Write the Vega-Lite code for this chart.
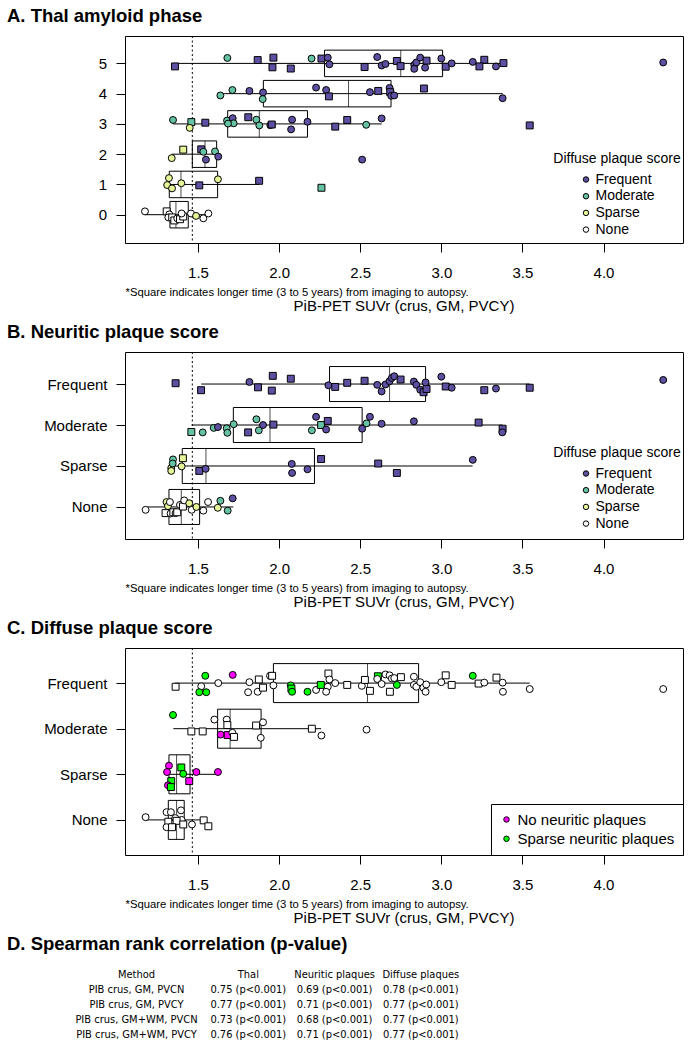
{
"$schema": "https://vega.github.io/schema/vega-lite/v6.json",
"padding": {"left": 7, "top": 6, "right": 5, "bottom": 5},
"config": {
 "font": "Liberation Sans",
 "view": {"stroke": "black", "strokeWidth": 1},
 "axis": {"domain": false, "grid": false, "tickColor": "black", "tickSize": 9, "tickWidth": 1, "labelFontSize": 15, "labelColor": "black", "labelPadding": 13, "titleColor": "black", "titleFontWeight": "normal", "labelFont": "Liberation Sans", "titleFont": "Liberation Sans"},
 "title": {"color": "black", "fontSize": 18.5, "fontWeight": "bold", "anchor": "start", "font": "Liberation Sans"},
 "legend": {"titleColor": "black", "labelColor": "black", "labelFont": "Liberation Sans", "titleFont": "Liberation Sans"}
},
"resolve": {"scale": {"color": "independent"}, "legend": {"color": "independent"}},
"datasets": {
 "boxA": [
  {"level": 5, "wlo": 1.358, "q1": 2.28, "med": 2.75, "q3": 3.008, "whi": 3.383},
  {"level": 4, "wlo": 1.638, "q1": 1.903, "med": 2.428, "q3": 2.69, "whi": 3.378},
  {"level": 3, "wlo": 1.346, "q1": 1.683, "med": 1.878, "q3": 2.175, "whi": 2.632},
  {"level": 2, "wlo": 1.338, "q1": 1.465, "med": 1.543, "q3": 1.615, "whi": 1.625},
  {"level": 1, "wlo": 1.31, "q1": 1.323, "med": 1.395, "q3": 1.621, "whi": 1.877},
  {"level": 0, "wlo": 1.173, "q1": 1.327, "med": 1.364, "q3": 1.44, "whi": 1.564}
 ],
 "boxB": [
  {"level": 4, "wlo": 1.52, "q1": 2.311, "med": 2.681, "q3": 2.903, "whi": 3.545},
  {"level": 3, "wlo": 1.461, "q1": 1.718, "med": 1.944, "q3": 2.512, "whi": 3.378},
  {"level": 2, "wlo": 1.335, "q1": 1.403, "med": 1.549, "q3": 2.218, "whi": 3.193},
  {"level": 1, "wlo": 1.177, "q1": 1.321, "med": 1.397, "q3": 1.51, "whi": 1.718}
 ],
 "boxC": [
  {"level": 4, "wlo": 1.358, "q1": 1.965, "med": 2.545, "q3": 2.86, "whi": 3.545},
  {"level": 3, "wlo": 1.348, "q1": 1.621, "med": 1.698, "q3": 1.889, "whi": 2.259},
  {"level": 2, "wlo": 1.309, "q1": 1.321, "med": 1.368, "q3": 1.451, "whi": 1.625},
  {"level": 1, "wlo": 1.177, "q1": 1.317, "med": 1.368, "q3": 1.415, "whi": 1.533}
 ],
 "ptsA": [
  {"suvr": 1.358, "jit": 4.90, "dps": "Frequent", "gap": "long"},
  {"suvr": 1.681, "jit": 5.18, "dps": "Moderate", "gap": "short"},
  {"suvr": 1.868, "jit": 5.11, "dps": "Frequent", "gap": "long"},
  {"suvr": 1.965, "jit": 5.19, "dps": "Frequent", "gap": "long"},
  {"suvr": 1.959, "jit": 4.87, "dps": "Frequent", "gap": "long"},
  {"suvr": 2.072, "jit": 4.83, "dps": "Frequent", "gap": "long"},
  {"suvr": 2.20, "jit": 5.16, "dps": "Moderate", "gap": "short"},
  {"suvr": 2.261, "jit": 5.16, "dps": "Frequent", "gap": "long"},
  {"suvr": 2.30, "jit": 5.19, "dps": "Frequent", "gap": "short"},
  {"suvr": 2.31, "jit": 4.97, "dps": "Frequent", "gap": "short"},
  {"suvr": 2.527, "jit": 4.88, "dps": "Frequent", "gap": "long"},
  {"suvr": 2.605, "jit": 5.21, "dps": "Frequent", "gap": "short"},
  {"suvr": 2.632, "jit": 4.93, "dps": "Frequent", "gap": "short"},
  {"suvr": 2.656, "jit": 4.98, "dps": "Frequent", "gap": "short"},
  {"suvr": 2.726, "jit": 5.08, "dps": "Frequent", "gap": "long"},
  {"suvr": 2.749, "jit": 4.91, "dps": "Frequent", "gap": "long"},
  {"suvr": 2.833, "jit": 4.95, "dps": "Frequent", "gap": "short"},
  {"suvr": 2.846, "jit": 5.03, "dps": "Frequent", "gap": "short"},
  {"suvr": 2.870, "jit": 5.19, "dps": "Frequent", "gap": "short"},
  {"suvr": 2.909, "jit": 5.09, "dps": "Frequent", "gap": "long"},
  {"suvr": 2.833, "jit": 4.82, "dps": "Frequent", "gap": "short"},
  {"suvr": 2.90, "jit": 4.86, "dps": "Frequent", "gap": "short"},
  {"suvr": 3.0, "jit": 5.16, "dps": "Frequent", "gap": "short"},
  {"suvr": 3.027, "jit": 4.89, "dps": "Frequent", "gap": "long"},
  {"suvr": 3.064, "jit": 5.0, "dps": "Frequent", "gap": "short"},
  {"suvr": 3.194, "jit": 5.05, "dps": "Frequent", "gap": "short"},
  {"suvr": 3.265, "jit": 5.12, "dps": "Frequent", "gap": "long"},
  {"suvr": 3.235, "jit": 4.90, "dps": "Frequent", "gap": "long"},
  {"suvr": 3.337, "jit": 4.90, "dps": "Frequent", "gap": "short"},
  {"suvr": 3.383, "jit": 5.01, "dps": "Frequent", "gap": "long"},
  {"suvr": 4.368, "jit": 5.03, "dps": "Frequent", "gap": "short"},
  {"suvr": 1.638, "jit": 3.94, "dps": "Moderate", "gap": "short"},
  {"suvr": 1.712, "jit": 4.12, "dps": "Moderate", "gap": "short"},
  {"suvr": 1.817, "jit": 4.09, "dps": "Frequent", "gap": "short"},
  {"suvr": 1.901, "jit": 4.04, "dps": "Frequent", "gap": "short"},
  {"suvr": 1.899, "jit": 3.82, "dps": "Moderate", "gap": "short"},
  {"suvr": 2.228, "jit": 4.20, "dps": "Frequent", "gap": "short"},
  {"suvr": 2.29, "jit": 4.12, "dps": "Frequent", "gap": "short"},
  {"suvr": 2.307, "jit": 3.91, "dps": "Frequent", "gap": "long"},
  {"suvr": 2.56, "jit": 4.05, "dps": "Frequent", "gap": "short"},
  {"suvr": 2.611, "jit": 4.09, "dps": "Frequent", "gap": "long"},
  {"suvr": 2.681, "jit": 4.19, "dps": "Frequent", "gap": "short"},
  {"suvr": 2.685, "jit": 4.05, "dps": "Frequent", "gap": "long"},
  {"suvr": 2.691, "jit": 3.93, "dps": "Frequent", "gap": "short"},
  {"suvr": 2.71, "jit": 3.94, "dps": "Frequent", "gap": "short"},
  {"suvr": 2.893, "jit": 4.17, "dps": "Frequent", "gap": "long"},
  {"suvr": 3.378, "jit": 3.85, "dps": "Frequent", "gap": "short"},
  {"suvr": 1.346, "jit": 3.13, "dps": "Moderate", "gap": "short"},
  {"suvr": 1.459, "jit": 3.06, "dps": "Moderate", "gap": "long"},
  {"suvr": 1.449, "jit": 2.87, "dps": "Sparse", "gap": "short"},
  {"suvr": 1.545, "jit": 3.04, "dps": "Frequent", "gap": "long"},
  {"suvr": 1.679, "jit": 3.11, "dps": "Moderate", "gap": "short"},
  {"suvr": 1.714, "jit": 3.19, "dps": "Frequent", "gap": "short"},
  {"suvr": 1.72, "jit": 3.02, "dps": "Moderate", "gap": "short"},
  {"suvr": 1.685, "jit": 3.01, "dps": "Moderate", "gap": "short"},
  {"suvr": 1.81, "jit": 3.22, "dps": "Frequent", "gap": "long"},
  {"suvr": 1.86, "jit": 3.14, "dps": "Moderate", "gap": "short"},
  {"suvr": 1.878, "jit": 2.95, "dps": "Moderate", "gap": "short"},
  {"suvr": 1.946, "jit": 2.96, "dps": "Frequent", "gap": "short"},
  {"suvr": 1.955, "jit": 2.98, "dps": "Frequent", "gap": "long"},
  {"suvr": 2.08, "jit": 3.14, "dps": "Frequent", "gap": "short"},
  {"suvr": 2.074, "jit": 2.82, "dps": "Frequent", "gap": "short"},
  {"suvr": 2.175, "jit": 3.07, "dps": "Frequent", "gap": "short"},
  {"suvr": 2.346, "jit": 2.91, "dps": "Frequent", "gap": "long"},
  {"suvr": 2.42, "jit": 3.13, "dps": "Frequent", "gap": "long"},
  {"suvr": 2.537, "jit": 2.97, "dps": "Moderate", "gap": "short"},
  {"suvr": 2.632, "jit": 3.18, "dps": "Frequent", "gap": "short"},
  {"suvr": 3.545, "jit": 2.95, "dps": "Frequent", "gap": "long"},
  {"suvr": 1.338, "jit": 1.87, "dps": "Sparse", "gap": "short"},
  {"suvr": 1.409, "jit": 2.15, "dps": "Sparse", "gap": "long"},
  {"suvr": 1.52, "jit": 2.16, "dps": "Frequent", "gap": "long"},
  {"suvr": 1.533, "jit": 2.08, "dps": "Moderate", "gap": "short"},
  {"suvr": 1.549, "jit": 1.82, "dps": "Frequent", "gap": "short"},
  {"suvr": 1.605, "jit": 2.09, "dps": "Moderate", "gap": "short"},
  {"suvr": 1.625, "jit": 1.92, "dps": "Frequent", "gap": "short"},
  {"suvr": 2.512, "jit": 1.82, "dps": "Frequent", "gap": "short"},
  {"suvr": 1.321, "jit": 1.21, "dps": "Sparse", "gap": "short"},
  {"suvr": 1.31, "jit": 0.98, "dps": "Sparse", "gap": "short"},
  {"suvr": 1.34, "jit": 0.87, "dps": "Sparse", "gap": "short"},
  {"suvr": 1.397, "jit": 1.04, "dps": "Sparse", "gap": "short"},
  {"suvr": 1.508, "jit": 0.97, "dps": "Frequent", "gap": "long"},
  {"suvr": 1.623, "jit": 1.17, "dps": "Sparse", "gap": "short"},
  {"suvr": 1.877, "jit": 1.12, "dps": "Frequent", "gap": "long"},
  {"suvr": 2.261, "jit": 0.89, "dps": "Moderate", "gap": "long"},
  {"suvr": 1.173, "jit": 0.11, "dps": "None", "gap": "short"},
  {"suvr": 1.307, "jit": 0.11, "dps": "None", "gap": "long"},
  {"suvr": 1.323, "jit": 0.01, "dps": "None", "gap": "short"},
  {"suvr": 1.317, "jit": -0.09, "dps": "None", "gap": "short"},
  {"suvr": 1.341, "jit": -0.09, "dps": "None", "gap": "long"},
  {"suvr": 1.354, "jit": -0.19, "dps": "None", "gap": "long"},
  {"suvr": 1.372, "jit": -0.12, "dps": "None", "gap": "short"},
  {"suvr": 1.389, "jit": -0.15, "dps": "None", "gap": "long"},
  {"suvr": 1.409, "jit": -0.06, "dps": "None", "gap": "long"},
  {"suvr": 1.399, "jit": 0.04, "dps": "None", "gap": "short"},
  {"suvr": 1.457, "jit": 0.04, "dps": "None", "gap": "short"},
  {"suvr": 1.488, "jit": -0.04, "dps": "Sparse", "gap": "short"},
  {"suvr": 1.533, "jit": -0.12, "dps": "None", "gap": "short"},
  {"suvr": 1.564, "jit": 0.04, "dps": "None", "gap": "short"}
 ],
 "ptsB": [
  {"suvr": 1.362, "jit": 4.02, "dps": "Frequent", "gap": "long"},
  {"suvr": 1.519, "jit": 3.85, "dps": "Frequent", "gap": "long"},
  {"suvr": 1.817, "jit": 4.05, "dps": "Frequent", "gap": "short"},
  {"suvr": 1.870, "jit": 3.92, "dps": "Frequent", "gap": "long"},
  {"suvr": 1.961, "jit": 4.20, "dps": "Frequent", "gap": "long"},
  {"suvr": 1.955, "jit": 3.84, "dps": "Frequent", "gap": "long"},
  {"suvr": 2.072, "jit": 4.13, "dps": "Frequent", "gap": "long"},
  {"suvr": 2.304, "jit": 3.97, "dps": "Frequent", "gap": "short"},
  {"suvr": 2.346, "jit": 3.93, "dps": "Frequent", "gap": "long"},
  {"suvr": 2.42, "jit": 4.03, "dps": "Frequent", "gap": "long"},
  {"suvr": 2.527, "jit": 4.08, "dps": "Frequent", "gap": "long"},
  {"suvr": 2.605, "jit": 3.98, "dps": "Frequent", "gap": "short"},
  {"suvr": 2.632, "jit": 3.82, "dps": "Frequent", "gap": "short"},
  {"suvr": 2.656, "jit": 3.99, "dps": "Frequent", "gap": "short"},
  {"suvr": 2.681, "jit": 4.07, "dps": "Frequent", "gap": "short"},
  {"suvr": 2.695, "jit": 4.15, "dps": "Frequent", "gap": "short"},
  {"suvr": 2.71, "jit": 4.19, "dps": "Frequent", "gap": "short"},
  {"suvr": 2.749, "jit": 4.11, "dps": "Frequent", "gap": "long"},
  {"suvr": 2.831, "jit": 4.06, "dps": "Frequent", "gap": "short"},
  {"suvr": 2.846, "jit": 3.98, "dps": "Frequent", "gap": "short"},
  {"suvr": 2.870, "jit": 3.86, "dps": "Frequent", "gap": "short"},
  {"suvr": 2.891, "jit": 3.80, "dps": "Frequent", "gap": "long"},
  {"suvr": 2.909, "jit": 3.88, "dps": "Frequent", "gap": "long"},
  {"suvr": 2.903, "jit": 4.04, "dps": "Frequent", "gap": "short"},
  {"suvr": 3.0, "jit": 4.18, "dps": "Frequent", "gap": "short"},
  {"suvr": 3.027, "jit": 3.94, "dps": "Frequent", "gap": "long"},
  {"suvr": 3.064, "jit": 3.91, "dps": "Frequent", "gap": "short"},
  {"suvr": 3.265, "jit": 3.85, "dps": "Frequent", "gap": "long"},
  {"suvr": 3.337, "jit": 3.89, "dps": "Frequent", "gap": "short"},
  {"suvr": 3.545, "jit": 3.91, "dps": "Frequent", "gap": "long"},
  {"suvr": 4.368, "jit": 4.10, "dps": "Frequent", "gap": "short"},
  {"suvr": 1.459, "jit": 2.83, "dps": "Moderate", "gap": "long"},
  {"suvr": 1.529, "jit": 2.82, "dps": "Moderate", "gap": "short"},
  {"suvr": 1.597, "jit": 2.93, "dps": "Moderate", "gap": "short"},
  {"suvr": 1.623, "jit": 2.95, "dps": "Frequent", "gap": "short"},
  {"suvr": 1.677, "jit": 2.92, "dps": "Moderate", "gap": "short"},
  {"suvr": 1.681, "jit": 2.81, "dps": "Moderate", "gap": "short"},
  {"suvr": 1.72, "jit": 3.02, "dps": "Moderate", "gap": "short"},
  {"suvr": 1.809, "jit": 2.82, "dps": "Frequent", "gap": "long"},
  {"suvr": 1.86, "jit": 3.14, "dps": "Moderate", "gap": "short"},
  {"suvr": 1.875, "jit": 2.87, "dps": "Moderate", "gap": "short"},
  {"suvr": 1.901, "jit": 3.0, "dps": "Frequent", "gap": "short"},
  {"suvr": 1.965, "jit": 3.01, "dps": "Frequent", "gap": "long"},
  {"suvr": 2.228, "jit": 3.20, "dps": "Frequent", "gap": "short"},
  {"suvr": 2.202, "jit": 2.87, "dps": "Moderate", "gap": "short"},
  {"suvr": 2.259, "jit": 3.0, "dps": "Moderate", "gap": "long"},
  {"suvr": 2.30, "jit": 3.10, "dps": "Frequent", "gap": "long"},
  {"suvr": 2.29, "jit": 2.89, "dps": "Frequent", "gap": "short"},
  {"suvr": 2.512, "jit": 2.91, "dps": "Frequent", "gap": "short"},
  {"suvr": 2.539, "jit": 3.04, "dps": "Moderate", "gap": "short"},
  {"suvr": 2.56, "jit": 3.20, "dps": "Frequent", "gap": "short"},
  {"suvr": 2.632, "jit": 3.03, "dps": "Frequent", "gap": "short"},
  {"suvr": 2.831, "jit": 3.09, "dps": "Frequent", "gap": "short"},
  {"suvr": 3.23, "jit": 3.06, "dps": "Frequent", "gap": "long"},
  {"suvr": 3.378, "jit": 2.91, "dps": "Frequent", "gap": "long"},
  {"suvr": 3.376, "jit": 2.82, "dps": "Frequent", "gap": "short"},
  {"suvr": 1.346, "jit": 2.16, "dps": "Moderate", "gap": "short"},
  {"suvr": 1.407, "jit": 2.19, "dps": "Sparse", "gap": "long"},
  {"suvr": 1.399, "jit": 1.99, "dps": "Sparse", "gap": "short"},
  {"suvr": 1.335, "jit": 1.95, "dps": "Sparse", "gap": "short"},
  {"suvr": 1.335, "jit": 1.88, "dps": "Sparse", "gap": "short"},
  {"suvr": 1.344, "jit": 2.06, "dps": "Moderate", "gap": "short"},
  {"suvr": 1.508, "jit": 1.88, "dps": "Frequent", "gap": "long"},
  {"suvr": 1.547, "jit": 1.93, "dps": "Frequent", "gap": "short"},
  {"suvr": 2.078, "jit": 2.05, "dps": "Frequent", "gap": "short"},
  {"suvr": 2.08, "jit": 1.83, "dps": "Frequent", "gap": "short"},
  {"suvr": 2.175, "jit": 1.92, "dps": "Frequent", "gap": "short"},
  {"suvr": 2.259, "jit": 2.17, "dps": "Frequent", "gap": "long"},
  {"suvr": 2.611, "jit": 2.06, "dps": "Frequent", "gap": "long"},
  {"suvr": 2.726, "jit": 1.83, "dps": "Frequent", "gap": "long"},
  {"suvr": 3.194, "jit": 2.15, "dps": "Frequent", "gap": "short"},
  {"suvr": 1.177, "jit": 0.93, "dps": "None", "gap": "short"},
  {"suvr": 1.30, "jit": 0.85, "dps": "None", "gap": "long"},
  {"suvr": 1.306, "jit": 1.12, "dps": "Sparse", "gap": "short"},
  {"suvr": 1.315, "jit": 1.02, "dps": "Sparse", "gap": "short"},
  {"suvr": 1.327, "jit": 1.12, "dps": "None", "gap": "short"},
  {"suvr": 1.331, "jit": 0.84, "dps": "None", "gap": "short"},
  {"suvr": 1.348, "jit": 0.87, "dps": "None", "gap": "long"},
  {"suvr": 1.362, "jit": 0.85, "dps": "None", "gap": "short"},
  {"suvr": 1.372, "jit": 0.87, "dps": "None", "gap": "long"},
  {"suvr": 1.389, "jit": 1.05, "dps": "None", "gap": "short"},
  {"suvr": 1.407, "jit": 1.01, "dps": "None", "gap": "long"},
  {"suvr": 1.415, "jit": 1.16, "dps": "None", "gap": "short"},
  {"suvr": 1.446, "jit": 1.09, "dps": "Sparse", "gap": "short"},
  {"suvr": 1.461, "jit": 0.93, "dps": "None", "gap": "short"},
  {"suvr": 1.49, "jit": 1.0, "dps": "Sparse", "gap": "short"},
  {"suvr": 1.533, "jit": 0.91, "dps": "None", "gap": "short"},
  {"suvr": 1.562, "jit": 1.12, "dps": "None", "gap": "short"},
  {"suvr": 1.622, "jit": 0.98, "dps": "Sparse", "gap": "short"},
  {"suvr": 1.638, "jit": 1.15, "dps": "Moderate", "gap": "short"},
  {"suvr": 1.683, "jit": 0.91, "dps": "Moderate", "gap": "short"},
  {"suvr": 1.714, "jit": 1.21, "dps": "Frequent", "gap": "short"}
 ],
 "ptsC": [
  {"suvr": 1.362, "jit": 3.92, "np": "Moderate or frequent neuritic plaques", "gap": "long"},
  {"suvr": 1.545, "jit": 4.16, "np": "Sparse neuritic plaques", "gap": "short"},
  {"suvr": 1.52, "jit": 3.93, "np": "Moderate or frequent neuritic plaques", "gap": "short"},
  {"suvr": 1.508, "jit": 3.80, "np": "Sparse neuritic plaques", "gap": "short"},
  {"suvr": 1.551, "jit": 3.80, "np": "Sparse neuritic plaques", "gap": "short"},
  {"suvr": 1.625, "jit": 4.0, "np": "Moderate or frequent neuritic plaques", "gap": "short"},
  {"suvr": 1.714, "jit": 4.18, "np": "No neuritic plaques", "gap": "short"},
  {"suvr": 1.817, "jit": 4.02, "np": "Moderate or frequent neuritic plaques", "gap": "short"},
  {"suvr": 1.809, "jit": 3.80, "np": "Moderate or frequent neuritic plaques", "gap": "short"},
  {"suvr": 1.875, "jit": 4.08, "np": "Moderate or frequent neuritic plaques", "gap": "long"},
  {"suvr": 1.868, "jit": 3.81, "np": "Moderate or frequent neuritic plaques", "gap": "short"},
  {"suvr": 1.901, "jit": 3.90, "np": "Moderate or frequent neuritic plaques", "gap": "long"},
  {"suvr": 1.944, "jit": 4.16, "np": "Moderate or frequent neuritic plaques", "gap": "short"},
  {"suvr": 1.957, "jit": 4.16, "np": "Moderate or frequent neuritic plaques", "gap": "long"},
  {"suvr": 1.965, "jit": 3.95, "np": "Moderate or frequent neuritic plaques", "gap": "short"},
  {"suvr": 2.072, "jit": 3.95, "np": "Sparse neuritic plaques", "gap": "short"},
  {"suvr": 2.076, "jit": 3.88, "np": "Sparse neuritic plaques", "gap": "long"},
  {"suvr": 2.08, "jit": 3.81, "np": "Sparse neuritic plaques", "gap": "short"},
  {"suvr": 2.175, "jit": 3.81, "np": "Sparse neuritic plaques", "gap": "short"},
  {"suvr": 2.228, "jit": 3.85, "np": "Moderate or frequent neuritic plaques", "gap": "short"},
  {"suvr": 2.304, "jit": 4.21, "np": "Moderate or frequent neuritic plaques", "gap": "long"},
  {"suvr": 2.31, "jit": 4.08, "np": "Moderate or frequent neuritic plaques", "gap": "short"},
  {"suvr": 2.257, "jit": 3.96, "np": "Sparse neuritic plaques", "gap": "long"},
  {"suvr": 2.30, "jit": 3.92, "np": "Moderate or frequent neuritic plaques", "gap": "short"},
  {"suvr": 2.29, "jit": 3.81, "np": "Moderate or frequent neuritic plaques", "gap": "short"},
  {"suvr": 2.346, "jit": 4.0, "np": "Moderate or frequent neuritic plaques", "gap": "short"},
  {"suvr": 2.42, "jit": 3.96, "np": "Moderate or frequent neuritic plaques", "gap": "long"},
  {"suvr": 2.51, "jit": 3.94, "np": "Moderate or frequent neuritic plaques", "gap": "short"},
  {"suvr": 2.529, "jit": 4.07, "np": "Moderate or frequent neuritic plaques", "gap": "long"},
  {"suvr": 2.56, "jit": 3.83, "np": "Moderate or frequent neuritic plaques", "gap": "long"},
  {"suvr": 2.609, "jit": 4.15, "np": "Sparse neuritic plaques", "gap": "long"},
  {"suvr": 2.605, "jit": 4.09, "np": "Moderate or frequent neuritic plaques", "gap": "short"},
  {"suvr": 2.632, "jit": 3.98, "np": "Moderate or frequent neuritic plaques", "gap": "short"},
  {"suvr": 2.656, "jit": 4.19, "np": "Moderate or frequent neuritic plaques", "gap": "short"},
  {"suvr": 2.681, "jit": 4.17, "np": "Moderate or frequent neuritic plaques", "gap": "short"},
  {"suvr": 2.695, "jit": 4.10, "np": "Moderate or frequent neuritic plaques", "gap": "short"},
  {"suvr": 2.71, "jit": 4.11, "np": "Moderate or frequent neuritic plaques", "gap": "short"},
  {"suvr": 2.683, "jit": 3.81, "np": "Moderate or frequent neuritic plaques", "gap": "long"},
  {"suvr": 2.726, "jit": 3.96, "np": "Sparse neuritic plaques", "gap": "short"},
  {"suvr": 2.751, "jit": 4.13, "np": "Moderate or frequent neuritic plaques", "gap": "long"},
  {"suvr": 2.831, "jit": 4.14, "np": "Moderate or frequent neuritic plaques", "gap": "short"},
  {"suvr": 2.831, "jit": 3.96, "np": "Moderate or frequent neuritic plaques", "gap": "short"},
  {"suvr": 2.846, "jit": 3.92, "np": "Moderate or frequent neuritic plaques", "gap": "short"},
  {"suvr": 2.870, "jit": 4.02, "np": "Moderate or frequent neuritic plaques", "gap": "short"},
  {"suvr": 2.889, "jit": 3.90, "np": "Moderate or frequent neuritic plaques", "gap": "short"},
  {"suvr": 2.903, "jit": 3.81, "np": "Moderate or frequent neuritic plaques", "gap": "short"},
  {"suvr": 2.907, "jit": 3.97, "np": "Moderate or frequent neuritic plaques", "gap": "short"},
  {"suvr": 3.0, "jit": 4.02, "np": "Moderate or frequent neuritic plaques", "gap": "short"},
  {"suvr": 3.027, "jit": 4.17, "np": "Moderate or frequent neuritic plaques", "gap": "long"},
  {"suvr": 3.064, "jit": 3.96, "np": "Moderate or frequent neuritic plaques", "gap": "long"},
  {"suvr": 3.194, "jit": 4.16, "np": "Sparse neuritic plaques", "gap": "short"},
  {"suvr": 3.23, "jit": 3.99, "np": "Moderate or frequent neuritic plaques", "gap": "long"},
  {"suvr": 3.265, "jit": 4.01, "np": "Moderate or frequent neuritic plaques", "gap": "short"},
  {"suvr": 3.34, "jit": 4.12, "np": "Moderate or frequent neuritic plaques", "gap": "long"},
  {"suvr": 3.378, "jit": 4.01, "np": "Moderate or frequent neuritic plaques", "gap": "short"},
  {"suvr": 3.38, "jit": 3.81, "np": "Moderate or frequent neuritic plaques", "gap": "short"},
  {"suvr": 3.545, "jit": 3.87, "np": "Moderate or frequent neuritic plaques", "gap": "short"},
  {"suvr": 4.368, "jit": 3.87, "np": "Moderate or frequent neuritic plaques", "gap": "short"},
  {"suvr": 1.346, "jit": 3.30, "np": "Sparse neuritic plaques", "gap": "short"},
  {"suvr": 1.459, "jit": 2.94, "np": "Moderate or frequent neuritic plaques", "gap": "long"},
  {"suvr": 1.529, "jit": 2.94, "np": "Moderate or frequent neuritic plaques", "gap": "long"},
  {"suvr": 1.601, "jit": 3.20, "np": "Moderate or frequent neuritic plaques", "gap": "short"},
  {"suvr": 1.677, "jit": 3.20, "np": "Moderate or frequent neuritic plaques", "gap": "short"},
  {"suvr": 1.681, "jit": 3.08, "np": "Moderate or frequent neuritic plaques", "gap": "long"},
  {"suvr": 1.64, "jit": 2.87, "np": "No neuritic plaques", "gap": "short"},
  {"suvr": 1.683, "jit": 2.86, "np": "No neuritic plaques", "gap": "long"},
  {"suvr": 1.712, "jit": 2.91, "np": "Moderate or frequent neuritic plaques", "gap": "short"},
  {"suvr": 1.722, "jit": 2.82, "np": "Moderate or frequent neuritic plaques", "gap": "long"},
  {"suvr": 1.858, "jit": 3.07, "np": "Moderate or frequent neuritic plaques", "gap": "long"},
  {"suvr": 1.901, "jit": 3.14, "np": "Moderate or frequent neuritic plaques", "gap": "short"},
  {"suvr": 1.887, "jit": 2.80, "np": "Moderate or frequent neuritic plaques", "gap": "short"},
  {"suvr": 2.202, "jit": 3.0, "np": "Moderate or frequent neuritic plaques", "gap": "long"},
  {"suvr": 2.261, "jit": 2.85, "np": "Moderate or frequent neuritic plaques", "gap": "short"},
  {"suvr": 2.539, "jit": 2.98, "np": "Moderate or frequent neuritic plaques", "gap": "short"},
  {"suvr": 1.321, "jit": 2.19, "np": "No neuritic plaques", "gap": "short"},
  {"suvr": 1.309, "jit": 2.05, "np": "No neuritic plaques", "gap": "short"},
  {"suvr": 1.397, "jit": 2.15, "np": "Sparse neuritic plaques", "gap": "long"},
  {"suvr": 1.409, "jit": 2.01, "np": "Sparse neuritic plaques", "gap": "short"},
  {"suvr": 1.49, "jit": 2.05, "np": "No neuritic plaques", "gap": "short"},
  {"suvr": 1.623, "jit": 2.05, "np": "No neuritic plaques", "gap": "short"},
  {"suvr": 1.335, "jit": 1.85, "np": "Sparse neuritic plaques", "gap": "long"},
  {"suvr": 1.446, "jit": 1.85, "np": "No neuritic plaques", "gap": "long"},
  {"suvr": 1.315, "jit": 1.76, "np": "No neuritic plaques", "gap": "short"},
  {"suvr": 1.333, "jit": 1.72, "np": "Sparse neuritic plaques", "gap": "long"},
  {"suvr": 1.177, "jit": 1.06, "np": "Moderate or frequent neuritic plaques", "gap": "short"},
  {"suvr": 1.306, "jit": 1.17, "np": "Moderate or frequent neuritic plaques", "gap": "short"},
  {"suvr": 1.333, "jit": 1.17, "np": "Moderate or frequent neuritic plaques", "gap": "short"},
  {"suvr": 1.395, "jit": 1.21, "np": "Moderate or frequent neuritic plaques", "gap": "short"},
  {"suvr": 1.317, "jit": 0.96, "np": "Moderate or frequent neuritic plaques", "gap": "long"},
  {"suvr": 1.36, "jit": 1.04, "np": "Moderate or frequent neuritic plaques", "gap": "short"},
  {"suvr": 1.399, "jit": 1.0, "np": "Moderate or frequent neuritic plaques", "gap": "short"},
  {"suvr": 1.368, "jit": 0.98, "np": "Moderate or frequent neuritic plaques", "gap": "long"},
  {"suvr": 1.306, "jit": 0.84, "np": "Moderate or frequent neuritic plaques", "gap": "short"},
  {"suvr": 1.34, "jit": 0.84, "np": "Moderate or frequent neuritic plaques", "gap": "long"},
  {"suvr": 1.409, "jit": 0.90, "np": "Moderate or frequent neuritic plaques", "gap": "long"},
  {"suvr": 1.463, "jit": 0.90, "np": "Moderate or frequent neuritic plaques", "gap": "short"},
  {"suvr": 1.535, "jit": 0.99, "np": "Moderate or frequent neuritic plaques", "gap": "long"},
  {"suvr": 1.564, "jit": 0.86, "np": "Moderate or frequent neuritic plaques", "gap": "long"}
 ],
 "tab": [
  {"row": 0, "col": "Method", "txt": "Method"},
  {"row": 0, "col": "Thal", "txt": "Thal"},
  {"row": 0, "col": "Neuritic", "txt": "Neuritic plaques"},
  {"row": 0, "col": "Diffuse", "txt": "Diffuse plaques"},
  {"row": 1, "col": "Method", "txt": "PIB crus, GM, PVCN"},
  {"row": 1, "col": "Thal", "txt": "0.75 (p<0.001)"},
  {"row": 1, "col": "Neuritic", "txt": "0.69 (p<0.001)"},
  {"row": 1, "col": "Diffuse", "txt": "0.78 (p<0.001)"},
  {"row": 2, "col": "Method", "txt": "PIB crus, GM, PVCY"},
  {"row": 2, "col": "Thal", "txt": "0.77 (p<0.001)"},
  {"row": 2, "col": "Neuritic", "txt": "0.71 (p<0.001)"},
  {"row": 2, "col": "Diffuse", "txt": "0.77 (p<0.001)"},
  {"row": 3, "col": "Method", "txt": "PIB crus, GM+WM, PVCN"},
  {"row": 3, "col": "Thal", "txt": "0.73 (p<0.001)"},
  {"row": 3, "col": "Neuritic", "txt": "0.68 (p<0.001)"},
  {"row": 3, "col": "Diffuse", "txt": "0.77 (p<0.001)"},
  {"row": 4, "col": "Method", "txt": "PIB crus, GM+WM, PVCY"},
  {"row": 4, "col": "Thal", "txt": "0.76 (p<0.001)"},
  {"row": 4, "col": "Neuritic", "txt": "0.71 (p<0.001)"},
  {"row": 4, "col": "Diffuse", "txt": "0.77 (p<0.001)"}
 ]
},
"spacing": 7,
"vconcat": [
 {
  "title": {"text": "A. Thal amyloid phase", "frame": "group", "dx": -118, "offset": 10},
  "resolve": {"scale": {"color": "independent"}, "legend": {"color": "independent"}},
  "vconcat": [{
   "width": 558, "height": 207,
   "title": {"text": "PiB-PET SUVr (crus, GM, PVCY)", "orient": "bottom", "anchor": "middle", "frame": "group", "fontSize": 15, "fontWeight": "normal", "offset": 2},
   "layer": [
    {"data": {"name": "boxA"}, "mark": {"type": "rule", "color": "black", "strokeWidth": 1},
     "encoding": {
      "x": {"field": "wlo", "type": "quantitative", "scale": {"domain": [1.05, 4.49], "nice": false, "zero": false}, "title": "*Square indicates longer time (3 to 5 years) from imaging to autopsy.", "axis": {"values": [1.5, 2, 2.5, 3, 3.5, 4], "format": ".1f", "titleAnchor": "start", "titleFontSize": 11.3, "titlePadding": 6}},
      "x2": {"field": "whi"},
      "y": {"field": "level", "type": "quantitative", "scale": {"domain": [-0.77, 5.74], "nice": false, "zero": false}, "title": null, "axis": {"values": [0, 1, 2, 3, 4, 5], "labelPadding": 9.5}}}},
    {"data": {"name": "boxA"}, "mark": {"type": "bar", "orient": "horizontal", "size": 26.5, "fill": "white", "fillOpacity": 0, "stroke": "black", "strokeWidth": 1},
     "encoding": {
      "x": {"field": "q1", "type": "quantitative", "title": "*Square indicates longer time (3 to 5 years) from imaging to autopsy."},
      "x2": {"field": "q3"},
      "y": {"field": "level", "type": "quantitative", "title": null}}},
    {"data": {"name": "boxA"}, "mark": {"type": "tick", "orient": "vertical", "size": 26.5, "thickness": 1, "color": "black"},
     "encoding": {
      "x": {"field": "med", "type": "quantitative", "title": "*Square indicates longer time (3 to 5 years) from imaging to autopsy."},
      "y": {"field": "level", "type": "quantitative", "title": null}}},
    {"data": {"values": [{}]}, "mark": {"type": "rule", "strokeDash": [2, 2.5], "color": "black", "strokeWidth": 1},
     "encoding": {"x": {"datum": 1.465, "type": "quantitative", "title": "*Square indicates longer time (3 to 5 years) from imaging to autopsy."}}},
    {"data": {"name": "ptsA"}, "mark": {"type": "point", "filled": true, "stroke": "black", "strokeWidth": 1, "size": 48, "opacity": 1},
     "encoding": {
      "x": {"field": "suvr", "type": "quantitative", "title": "*Square indicates longer time (3 to 5 years) from imaging to autopsy."},
      "y": {"field": "jit", "type": "quantitative", "title": null},
      "color": {"field": "dps", "type": "nominal", "scale": {"domain": ["Frequent", "Moderate", "Sparse", "None"], "range": ["#5E4FA2", "#66C2A5", "#E6F598", "#FFFFFF"]},
       "legend": {"title": "Diffuse plaque score", "orient": "none", "legendX": 428, "legendY": 115.5, "padding": 0, "titleFontSize": 14, "titleFontWeight": "normal", "titleAnchor": "middle", "titleAlign": "center", "titlePadding": 7, "labelFontSize": 14, "labelOffset": 2.5, "symbolSize": 30, "symbolType": "circle", "symbolStrokeColor": "black", "symbolStrokeWidth": 1, "rowPadding": 2.7}},
      "shape": {"field": "gap", "type": "nominal", "scale": {"domain": ["short", "long"], "range": ["circle", "square"]}, "legend": null}}}
   ]
  }]
 },
 {
  "title": {"text": "B. Neuritic plaque score", "frame": "group", "dx": -118, "offset": 10},
  "resolve": {"scale": {"color": "independent"}, "legend": {"color": "independent"}},
  "vconcat": [{
   "width": 558, "height": 187,
   "title": {"text": "PiB-PET SUVr (crus, GM, PVCY)", "orient": "bottom", "anchor": "middle", "frame": "group", "fontSize": 15, "fontWeight": "normal", "offset": 2},
   "layer": [
    {"data": {"name": "boxB"}, "mark": {"type": "rule", "color": "black", "strokeWidth": 1},
     "encoding": {
      "x": {"field": "wlo", "type": "quantitative", "scale": {"domain": [1.05, 4.49], "nice": false, "zero": false}, "title": "*Square indicates longer time (3 to 5 years) from imaging to autopsy.", "axis": {"values": [1.5, 2, 2.5, 3, 3.5, 4], "format": ".1f", "titleAnchor": "start", "titleFontSize": 11.3, "titlePadding": 6}},
      "x2": {"field": "whi"},
      "y": {"field": "level", "type": "quantitative", "scale": {"domain": [0.34, 4.66], "nice": false, "zero": false}, "title": null, "axis": {"values": [1, 2, 3, 4], "labelPadding": 9, "labelExpr": "datum.value == 4 ? 'Frequent' : datum.value == 3 ? 'Moderate' : datum.value == 2 ? 'Sparse' : 'None'"}}}},
    {"data": {"name": "boxB"}, "mark": {"type": "bar", "orient": "horizontal", "size": 35, "fill": "white", "fillOpacity": 0, "stroke": "black", "strokeWidth": 1},
     "encoding": {
      "x": {"field": "q1", "type": "quantitative", "title": "*Square indicates longer time (3 to 5 years) from imaging to autopsy."},
      "x2": {"field": "q3"},
      "y": {"field": "level", "type": "quantitative", "title": null}}},
    {"data": {"name": "boxB"}, "mark": {"type": "tick", "orient": "vertical", "size": 35, "thickness": 1, "color": "black"},
     "encoding": {
      "x": {"field": "med", "type": "quantitative", "title": "*Square indicates longer time (3 to 5 years) from imaging to autopsy."},
      "y": {"field": "level", "type": "quantitative", "title": null}}},
    {"data": {"values": [{}]}, "mark": {"type": "rule", "strokeDash": [2, 2.5], "color": "black", "strokeWidth": 1},
     "encoding": {"x": {"datum": 1.465, "type": "quantitative", "title": "*Square indicates longer time (3 to 5 years) from imaging to autopsy."}}},
    {"data": {"name": "ptsB"}, "mark": {"type": "point", "filled": true, "stroke": "black", "strokeWidth": 1, "size": 48, "opacity": 1},
     "encoding": {
      "x": {"field": "suvr", "type": "quantitative", "title": "*Square indicates longer time (3 to 5 years) from imaging to autopsy."},
      "y": {"field": "jit", "type": "quantitative", "title": null},
      "color": {"field": "dps", "type": "nominal", "scale": {"domain": ["Frequent", "Moderate", "Sparse", "None"], "range": ["#5E4FA2", "#66C2A5", "#E6F598", "#FFFFFF"]},
       "legend": {"title": "Diffuse plaque score", "orient": "none", "legendX": 428, "legendY": 93.5, "padding": 0, "titleFontSize": 14, "titleFontWeight": "normal", "titleAnchor": "middle", "titleAlign": "center", "titlePadding": 7, "labelFontSize": 14, "labelOffset": 2.5, "symbolSize": 30, "symbolType": "circle", "symbolStrokeColor": "black", "symbolStrokeWidth": 1, "rowPadding": 2.7}},
      "shape": {"field": "gap", "type": "nominal", "scale": {"domain": ["short", "long"], "range": ["circle", "square"]}, "legend": null}}}
   ]
  }]
 },
 {
  "title": {"text": "C. Diffuse plaque score", "frame": "group", "dx": -118, "offset": 10},
  "resolve": {"scale": {"color": "independent"}, "legend": {"color": "independent"}},
  "vconcat": [{
   "width": 558, "height": 207,
   "title": {"text": "PiB-PET SUVr (crus, GM, PVCY)", "orient": "bottom", "anchor": "middle", "frame": "group", "fontSize": 15, "fontWeight": "normal", "offset": 2},
   "layer": [
    {"data": {"name": "boxC"}, "mark": {"type": "rule", "color": "black", "strokeWidth": 1},
     "encoding": {
      "x": {"field": "wlo", "type": "quantitative", "scale": {"domain": [1.05, 4.49], "nice": false, "zero": false}, "title": "*Square indicates longer time (3 to 5 years) from imaging to autopsy.", "axis": {"values": [1.5, 2, 2.5, 3, 3.5, 4], "format": ".1f", "titleAnchor": "start", "titleFontSize": 11.3, "titlePadding": 6}},
      "x2": {"field": "whi"},
      "y": {"field": "level", "type": "quantitative", "scale": {"domain": [0.34, 4.66], "nice": false, "zero": false}, "title": null, "axis": {"values": [1, 2, 3, 4], "labelPadding": 9, "labelExpr": "datum.value == 4 ? 'Frequent' : datum.value == 3 ? 'Moderate' : datum.value == 2 ? 'Sparse' : 'None'"}}}},
    {"data": {"name": "boxC"}, "mark": {"type": "bar", "orient": "horizontal", "size": 39, "fill": "white", "fillOpacity": 0, "stroke": "black", "strokeWidth": 1},
     "encoding": {
      "x": {"field": "q1", "type": "quantitative", "title": "*Square indicates longer time (3 to 5 years) from imaging to autopsy."},
      "x2": {"field": "q3"},
      "y": {"field": "level", "type": "quantitative", "title": null}}},
    {"data": {"name": "boxC"}, "mark": {"type": "tick", "orient": "vertical", "size": 39, "thickness": 1, "color": "black"},
     "encoding": {
      "x": {"field": "med", "type": "quantitative", "title": "*Square indicates longer time (3 to 5 years) from imaging to autopsy."},
      "y": {"field": "level", "type": "quantitative", "title": null}}},
    {"data": {"values": [{}]}, "mark": {"type": "rule", "strokeDash": [2, 2.5], "color": "black", "strokeWidth": 1},
     "encoding": {"x": {"datum": 1.465, "type": "quantitative", "title": "*Square indicates longer time (3 to 5 years) from imaging to autopsy."}}},
    {"data": {"name": "ptsC"}, "mark": {"type": "point", "filled": true, "stroke": "black", "strokeWidth": 1, "size": 48, "opacity": 1},
     "encoding": {
      "x": {"field": "suvr", "type": "quantitative", "title": "*Square indicates longer time (3 to 5 years) from imaging to autopsy."},
      "y": {"field": "jit", "type": "quantitative", "title": null},
      "color": {"field": "np", "type": "nominal", "scale": {"domain": ["No neuritic plaques", "Sparse neuritic plaques", "Moderate or frequent neuritic plaques"], "range": ["#FF00FF", "#00FF00", "#FFFFFF"]},
       "legend": {"title": null, "values": ["No neuritic plaques", "Sparse neuritic plaques"], "orient": "bottom-right", "offset": 0, "padding": 8, "strokeColor": "black", "fillColor": "white", "labelFontSize": 15, "labelOffset": 3.5, "symbolSize": 30, "symbolType": "circle", "symbolStrokeColor": "black", "symbolStrokeWidth": 1, "rowPadding": 3.3}},
      "shape": {"field": "gap", "type": "nominal", "scale": {"domain": ["short", "long"], "range": ["circle", "square"]}, "legend": null}}}
   ]
  }]
 },
 {
  "title": {"text": "D. Spearman rank correlation (p-value)", "frame": "group", "dx": -118, "offset": 14},
  "spacing": 57.2,
  "bounds": "flush",
  "hconcat": [
   {"width": 23, "height": 75, "view": {"stroke": null}, "data": {"name": "tab"},
    "transform": [{"filter": "datum.col === 'Method'"}],
    "mark": {"type": "text", "font": "Liberation Sans Narrow, DejaVu Sans Condensed, sans-serif", "fontSize": 11, "baseline": "middle", "align": "center", "color": "black"},
    "encoding": {"y": {"field": "row", "type": "ordinal", "scale": {"type": "point", "padding": 0.5}, "axis": null}, "text": {"field": "txt"}}},
   {"width": 258.75, "height": 75, "view": {"stroke": null}, "data": {"name": "tab"},
    "transform": [{"filter": "datum.col !== 'Method'"}],
    "mark": {"type": "text", "font": "Liberation Sans Narrow, DejaVu Sans Condensed, sans-serif", "fontSize": 11, "baseline": "middle", "align": "center", "color": "black"},
    "encoding": {"x": {"field": "col", "type": "nominal", "sort": ["Thal", "Neuritic", "Diffuse"], "scale": {"type": "point", "padding": 0.5}, "axis": null},
     "y": {"field": "row", "type": "ordinal", "scale": {"type": "point", "padding": 0.5}, "axis": null}, "text": {"field": "txt"}}}
  ]
 }
]
}
